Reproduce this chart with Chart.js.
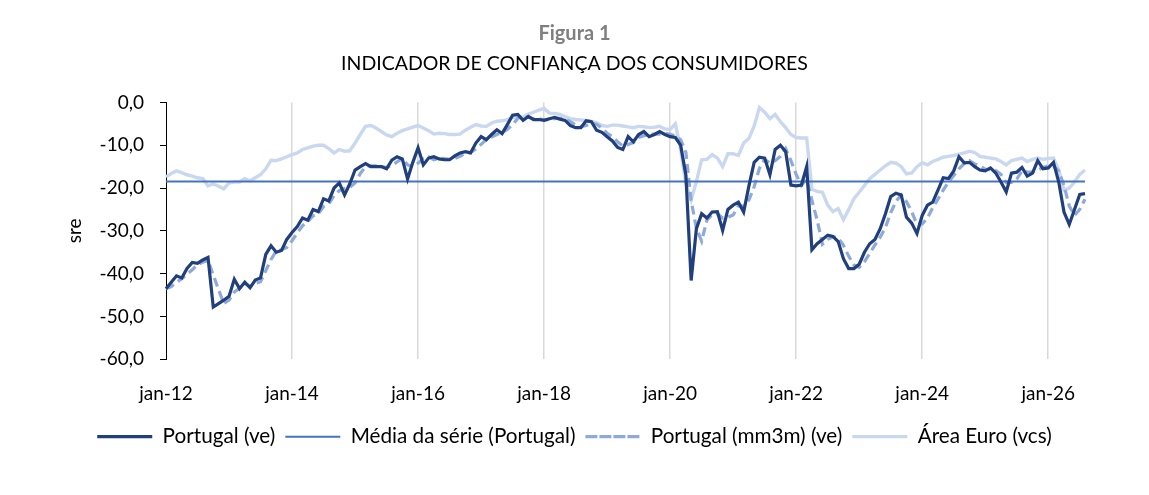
<!DOCTYPE html>
<html>
<head>
<meta charset="utf-8">
<script src="https://cdn.jsdelivr.net/npm/chart.js@4/dist/chart.umd.min.js"></script>
<style>
  html, body { margin: 0; padding: 0; background: #fff; }
  #wrap { width: 1149px; height: 495px; }
</style>
</head>
<body>
<div id="wrap"><canvas id="confChart"></canvas></div>
<script>
// monthly categories, jan-12 .. ago-26
var monthNames = ['jan','fev','mar','abr','mai','jun','jul','ago','set','out','nov','dez'];
var firstYear = 2012, nMonths = 176;
var labels = [];
for (var i = 0; i < nMonths; i++) {
  var yy = firstYear + Math.floor(i / 12);
  labels.push(monthNames[i % 12] + '-' + String(yy).slice(2));
}

// Portugal (ve)
var portugal = [
  -43.5, -42, -40.5, -41, -38.8, -37.4, -37.6, -36.8, -36.2, -47.8, -47, -46.2,
  -45.3, -41.3, -43.5, -42, -43.3, -41.5, -41, -35.5, -33.5, -35, -34.6, -32,
  -30.4, -29, -27, -27.5, -25, -25.5, -22.5, -23, -20, -18.8, -21.6, -19,
  -15.8, -15, -14.3, -15, -15, -15, -15.5, -13.5, -12.7, -13.2, -17.9, -14,
  -10.6, -14.6, -13, -12.7, -13.2, -13.4, -13.4, -12.5, -11.8, -11.5, -11.8, -9.5,
  -8, -8.7, -7.5, -6.4, -7.3, -5.2, -3, -2.8, -4.2, -3.3, -4, -4,
  -4.2, -3.8, -3.5, -3.9, -4.2, -5.4, -5.9, -5.9, -4.3, -4.5, -6.5, -7,
  -8, -9, -10.5, -11, -8, -9.2, -7.5, -6.8, -8, -7.5, -6.8, -7.5,
  -8, -8.2, -10, -17, -41.6, -29.5, -26, -27, -25.6, -25.5, -29.9, -25,
  -24, -23.3, -25.6, -19.5, -14, -12.8, -13, -16.9, -11, -10, -11.5, -19.3,
  -19.5, -19.3, -15, -34.4, -33, -32, -31, -31.3, -32.5, -36.5, -38.8, -38.8,
  -37.8, -35, -33, -32, -29.5, -26, -22, -21.2, -21.6, -26.8, -28.2, -30.6,
  -26.4, -24, -23.3, -20.5, -17.6, -17.8, -16, -12.7, -14.1, -14, -15, -15.8,
  -16, -15.3, -16.5, -18.6, -20.9, -16.5, -16.3, -15.2, -17.2, -16.5, -13.6, -15.5,
  -15.3, -14, -18.6, -25.6, -28.5, -25, -21.5, -21.3
];

// Portugal (mm3m) (ve)
var portugalMm3m = [
  -43.5, -43, -42, -41.2, -40.1, -39.1, -37.9, -37.3, -36.9, -40.3, -43.7, -47,
  -46.2, -44.3, -43.4, -42.3, -42.9, -42.3, -41.9, -39.3, -36.7, -34.7, -34.4, -33.9,
  -32.3, -30.5, -28.8, -27.8, -26.5, -26, -24.3, -23.7, -21.8, -20.6, -20.1, -19.8,
  -18.8, -16.6, -15, -14.8, -14.8, -15, -15.2, -14.7, -13.9, -13.1, -14.6, -15,
  -14.2, -13.1, -12.7, -13.4, -13, -13.1, -13.3, -13.1, -12.6, -11.9, -11.7, -10.9,
  -9.8, -8.7, -8.1, -7.5, -7.1, -6.3, -5.2, -3.7, -3.3, -3.4, -3.8, -3.8,
  -4.1, -4, -3.8, -3.7, -3.9, -4.5, -5.2, -5.7, -5.4, -4.9, -5.1, -6,
  -7.2, -8, -9.2, -10.2, -9.8, -9.4, -8.2, -7.8, -7.4, -7.4, -7.4, -7.3,
  -7.4, -7.9, -8.7, -11.7, -22.9, -29.4, -32.4, -27.5, -26.2, -26, -27, -26.8,
  -26.3, -24.1, -24.3, -22.8, -19.7, -15.4, -13.3, -14.2, -13.6, -12.6, -10.8, -13.6,
  -16.8, -19.4, -17.9, -22.9, -27.5, -33.1, -32, -31.4, -31.6, -33.4, -35.9, -38,
  -38.5, -37.2, -35.3, -33.3, -31.5, -29.2, -25.8, -23.1, -21.6, -23.2, -25.5, -28.5,
  -28.4, -27, -24.6, -22.6, -20.5, -18.6, -17.1, -15.5, -14.3, -13.6, -14.4, -14.9,
  -15.6, -15.7, -15.9, -16.8, -18.7, -18.7, -17.9, -16, -16.2, -16.3, -15.8, -15.2,
  -14.8, -14.9, -16, -19.4, -24.2, -26.4, -25, -22.6
];

// Área Euro (vcs)
var areaEuro = [
  -17.4, -16.6, -16, -16.4, -16.9, -17.2, -17.6, -17.8, -19.5, -19, -19.6, -20.2,
  -18.8, -18.6, -18.6, -17.8, -18.3, -17.6, -16.9, -15.5, -13.5, -13.6, -13.2, -12.7,
  -12.2, -11.8, -11, -10.6, -10.2, -10, -10, -10.8, -11.8, -11, -11.4, -11.3,
  -9.5, -7.5, -5.6, -5.4, -6, -6.8, -7.6, -8, -7.2, -6.6, -6.2, -5.8,
  -5.4, -6, -6.6, -7.4, -7.2, -7.3, -7.5, -7.5, -7.4, -6.5, -5.8, -5.2,
  -5.5, -5.6, -4.8, -4.4, -4.3, -4, -3.5, -3.4, -3.4, -2.7, -2.3, -1.8,
  -1.4, -2.5, -2.6, -2.8, -3.3, -3.8, -4, -4.1, -4.2, -4.4, -4.8, -5.4,
  -5.6, -5.3, -5.3, -5.5, -5.7, -5.9, -5.6, -5.7, -5.9, -5.8, -5.6, -6.2,
  -6.3, -5, -11, -19, -22.8, -18.5, -13.4, -13.3, -12.2, -13, -15, -12,
  -12, -12.4, -9.5, -8.4, -5.5, -1.2, -2.3, -3.8, -2.8, -4.5, -5.9, -7.5,
  -8.2, -8.3, -8.3, -20.3, -20.8, -21, -24, -25.5, -24.8, -27.4, -25, -22.5,
  -21, -19.4, -17.8, -16.8, -15.8, -14.8, -14, -14.2, -15, -16.7, -16.5, -15,
  -14.1, -14.6, -13.8, -13.3, -12.8, -12.6, -12.4, -12.1, -11.8, -11.4, -11.7, -12.6,
  -12.8, -13, -13.2, -13.8, -14.6, -13.6, -13.3, -13, -13.8, -13.3, -13, -13.3,
  -13.1, -13, -15.8, -20.5, -20, -18.6, -16.8, -15.8
];

// média da série (Portugal)
var mediaSerie = -18.5;

var yTicks = [0, -10, -20, -30, -40, -50, -60];

var fontFamily = 'Lato, "Open Sans", sans-serif';
Chart.defaults.font.family = fontFamily;
Chart.defaults.color = '#000';

new Chart(document.getElementById('confChart'), {
  type: 'line',
  data: {
    labels: labels,
    datasets: [{
      label: 'Portugal (ve)',
      data: portugal,
      borderColor: '#203f7c',
      backgroundColor: 'transparent',
      borderWidth: 3.2,
      pointRadius: 0,
      tension: 0
    }, {
      label: 'Média da série (Portugal)',
      data: labels.map(function () { return mediaSerie; }),
      borderColor: '#4472c4',
      backgroundColor: 'transparent',
      borderWidth: 2,
      pointRadius: 0
    }, {
      label: 'Portugal (mm3m) (ve)',
      data: portugalMm3m,
      borderColor: '#8eaadb',
      backgroundColor: 'transparent',
      borderWidth: 3.2,
      borderDash: [9, 5],
      pointRadius: 0,
      tension: 0
    }, {
      label: 'Área Euro (vcs)',
      data: areaEuro,
      borderColor: '#cad8ef',
      backgroundColor: 'transparent',
      borderWidth: 3.4,
      pointRadius: 0,
      tension: 0
    }]
  },
  options: {
    responsive: true,
    maintainAspectRatio: false,
    animation: false,
    layout: { padding: { left: 64, right: 64, top: 0, bottom: 38 } },
    plugins: {
      tooltip: { enabled: false },
      title: {
        display: true,
        text: 'Figura 1',
        color: '#7f7f7f',
        font: { size: 20, weight: 'bold' },
        padding: { top: 22, bottom: 0 }
      },
      subtitle: {
        display: true,
        text: 'INDICADOR DE CONFIANÇA DOS CONSUMIDORES',
        color: '#000',
        font: { size: 19.5 },
        padding: { top: 6, bottom: 27 }
      },
      legend: {
        position: 'bottom',
        labels: {
          boxWidth: 55,
          boxHeight: 0,
          padding: 10,
          color: '#000',
          font: { size: 20.7 }
        }
      }
    },
    scales: {
      x: {
        type: 'category',
        offset: false,
        border: { display: false },
        grid: {
          drawTicks: false,
          lineWidth: 1.5,
          color: function (c) {
            return (c.index % 24 === 0 && c.index > 0) ? '#d9d9d9' : 'rgba(0,0,0,0)';
          }
        },
        ticks: {
          autoSkip: false,
          maxRotation: 0,
          minRotation: 0,
          padding: 23,
          font: { size: 19 },
          callback: function (v, idx) {
            return idx % 24 === 0 ? labels[idx] : '';
          }
        },
        afterFit: function (s) { s.height = 57; }
      },
      y: {
        min: -60,
        max: 0,
        border: { display: true, color: '#000', width: 1 },
        grid: { drawOnChartArea: false, drawTicks: true, tickLength: 6, color: '#000' },
        afterBuildTicks: function (s) {
          s.ticks = yTicks.map(function (v) { return { value: v }; });
        },
        ticks: {
          padding: 16,
          font: { size: 19 },
          callback: function (v) { return v.toFixed(1).replace('.', ','); }
        },
        title: {
          display: true,
          text: 'sre',
          font: { size: 19 },
          padding: { top: -1, bottom: 0 }
        },
        afterFit: function (s) { s.width = 102; }
      }
    }
  }
});
</script>
</body>
</html>
